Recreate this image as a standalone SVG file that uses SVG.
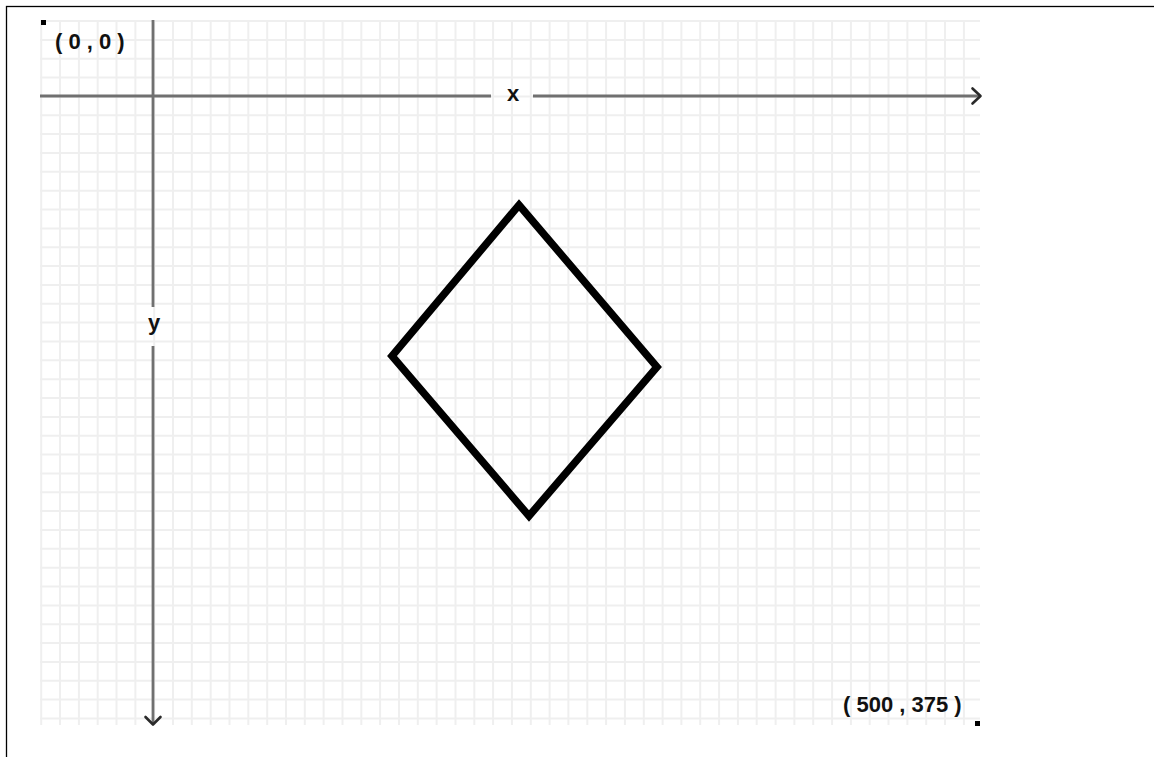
<svg xmlns="http://www.w3.org/2000/svg" width="1154" height="757" viewBox="0 0 1154 757">
<style>
.grid line{stroke:#efefef;stroke-width:2}
.axis{stroke:#707070;stroke-width:2.8;fill:none}
.head{stroke:#2a2a2a;stroke-width:2.6;fill:none;stroke-linecap:round;stroke-linejoin:round}
.lbl{font-family:"Liberation Sans",Arial,sans-serif;font-weight:bold;font-size:22px;fill:#111}
</style>
<rect width="1154" height="757" fill="#fff"/>
<rect x="6.5" y="6.5" width="1200" height="800" fill="none" stroke="#000" stroke-width="1.3"/>
<g id="grid" class="grid">
<line x1="41.2" y1="20" x2="41.2" y2="725"/><line x1="60.0" y1="20" x2="60.0" y2="725"/><line x1="78.9" y1="20" x2="78.9" y2="725"/><line x1="97.7" y1="20" x2="97.7" y2="725"/><line x1="116.5" y1="20" x2="116.5" y2="725"/><line x1="135.4" y1="20" x2="135.4" y2="725"/><line x1="154.2" y1="20" x2="154.2" y2="725"/><line x1="173.0" y1="20" x2="173.0" y2="725"/><line x1="191.8" y1="20" x2="191.8" y2="725"/><line x1="210.7" y1="20" x2="210.7" y2="725"/><line x1="229.5" y1="20" x2="229.5" y2="725"/><line x1="248.3" y1="20" x2="248.3" y2="725"/><line x1="267.2" y1="20" x2="267.2" y2="725"/><line x1="286.0" y1="20" x2="286.0" y2="725"/><line x1="304.8" y1="20" x2="304.8" y2="725"/><line x1="323.6" y1="20" x2="323.6" y2="725"/><line x1="342.5" y1="20" x2="342.5" y2="725"/><line x1="361.3" y1="20" x2="361.3" y2="725"/><line x1="380.1" y1="20" x2="380.1" y2="725"/><line x1="399.0" y1="20" x2="399.0" y2="725"/><line x1="417.8" y1="20" x2="417.8" y2="725"/><line x1="436.6" y1="20" x2="436.6" y2="725"/><line x1="455.5" y1="20" x2="455.5" y2="725"/><line x1="474.3" y1="20" x2="474.3" y2="725"/><line x1="493.1" y1="20" x2="493.1" y2="725"/><line x1="511.9" y1="20" x2="511.9" y2="725"/><line x1="530.8" y1="20" x2="530.8" y2="725"/><line x1="549.6" y1="20" x2="549.6" y2="725"/><line x1="568.4" y1="20" x2="568.4" y2="725"/><line x1="587.3" y1="20" x2="587.3" y2="725"/><line x1="606.1" y1="20" x2="606.1" y2="725"/><line x1="624.9" y1="20" x2="624.9" y2="725"/><line x1="643.8" y1="20" x2="643.8" y2="725"/><line x1="662.6" y1="20" x2="662.6" y2="725"/><line x1="681.4" y1="20" x2="681.4" y2="725"/><line x1="700.2" y1="20" x2="700.2" y2="725"/><line x1="719.1" y1="20" x2="719.1" y2="725"/><line x1="737.9" y1="20" x2="737.9" y2="725"/><line x1="756.7" y1="20" x2="756.7" y2="725"/><line x1="775.6" y1="20" x2="775.6" y2="725"/><line x1="794.4" y1="20" x2="794.4" y2="725"/><line x1="813.2" y1="20" x2="813.2" y2="725"/><line x1="832.1" y1="20" x2="832.1" y2="725"/><line x1="850.9" y1="20" x2="850.9" y2="725"/><line x1="869.7" y1="20" x2="869.7" y2="725"/><line x1="888.5" y1="20" x2="888.5" y2="725"/><line x1="907.4" y1="20" x2="907.4" y2="725"/><line x1="926.2" y1="20" x2="926.2" y2="725"/><line x1="945.0" y1="20" x2="945.0" y2="725"/><line x1="963.9" y1="20" x2="963.9" y2="725"/>
<line x1="40" y1="21.0" x2="980" y2="21.0"/><line x1="40" y1="39.9" x2="980" y2="39.9"/><line x1="40" y1="58.7" x2="980" y2="58.7"/><line x1="40" y1="77.6" x2="980" y2="77.6"/><line x1="40" y1="96.4" x2="980" y2="96.4"/><line x1="40" y1="115.3" x2="980" y2="115.3"/><line x1="40" y1="134.1" x2="980" y2="134.1"/><line x1="40" y1="153.0" x2="980" y2="153.0"/><line x1="40" y1="171.8" x2="980" y2="171.8"/><line x1="40" y1="190.7" x2="980" y2="190.7"/><line x1="40" y1="209.5" x2="980" y2="209.5"/><line x1="40" y1="228.4" x2="980" y2="228.4"/><line x1="40" y1="247.2" x2="980" y2="247.2"/><line x1="40" y1="266.1" x2="980" y2="266.1"/><line x1="40" y1="284.9" x2="980" y2="284.9"/><line x1="40" y1="303.8" x2="980" y2="303.8"/><line x1="40" y1="322.6" x2="980" y2="322.6"/><line x1="40" y1="341.5" x2="980" y2="341.5"/><line x1="40" y1="360.3" x2="980" y2="360.3"/><line x1="40" y1="379.2" x2="980" y2="379.2"/><line x1="40" y1="398.0" x2="980" y2="398.0"/><line x1="40" y1="416.9" x2="980" y2="416.9"/><line x1="40" y1="435.7" x2="980" y2="435.7"/><line x1="40" y1="454.6" x2="980" y2="454.6"/><line x1="40" y1="473.4" x2="980" y2="473.4"/><line x1="40" y1="492.3" x2="980" y2="492.3"/><line x1="40" y1="511.1" x2="980" y2="511.1"/><line x1="40" y1="530.0" x2="980" y2="530.0"/><line x1="40" y1="548.8" x2="980" y2="548.8"/><line x1="40" y1="567.7" x2="980" y2="567.7"/><line x1="40" y1="586.5" x2="980" y2="586.5"/><line x1="40" y1="605.4" x2="980" y2="605.4"/><line x1="40" y1="624.2" x2="980" y2="624.2"/><line x1="40" y1="643.1" x2="980" y2="643.1"/><line x1="40" y1="661.9" x2="980" y2="661.9"/><line x1="40" y1="680.8" x2="980" y2="680.8"/><line x1="40" y1="699.6" x2="980" y2="699.6"/><line x1="40" y1="718.5" x2="980" y2="718.5"/>
</g>
<g id="connectors">
<g id="x-axis">
<line class="axis" x1="40" y1="96" x2="491" y2="96"/>
<line class="axis" x1="533" y1="96" x2="979" y2="96"/>
<polyline class="head" points="972.5,88.5 980.5,96 972.5,103.5"/>
</g>
<g id="y-axis">
<line class="axis" x1="153" y1="20" x2="153" y2="307"/>
<line class="axis" x1="153" y1="346" x2="153" y2="724"/>
<polyline class="head" points="145.5,717 153,724.5 160.5,717"/>
</g>
</g>
<g id="diamond">
<polygon points="519,205 657,367 529,516 392,356" fill="none" stroke="#000" stroke-width="7.5" stroke-linejoin="miter"/>
</g>
<g id="labels">
<text class="lbl" x="513" y="101" text-anchor="middle">x</text>
<text class="lbl" x="154" y="330" text-anchor="middle">y</text>
<g id="origin">
<rect x="41" y="20" width="5" height="5" fill="#000"/>
<text class="lbl" x="55" y="49">( 0 , 0 )</text>
</g>
<g id="corner">
<rect x="975" y="721" width="5" height="5" fill="#000"/>
<text class="lbl" x="843" y="712">( 500 , 375 )</text>
</g>
</g>
</svg>
